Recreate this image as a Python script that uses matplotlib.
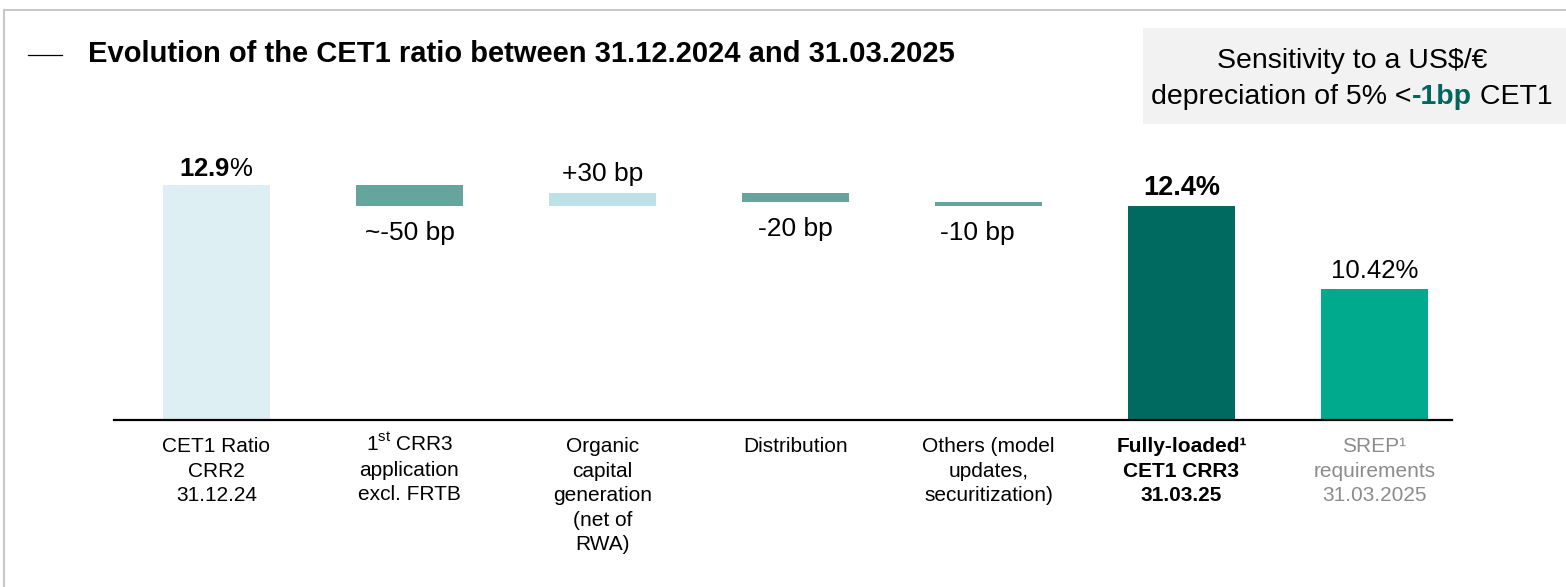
import matplotlib.pyplot as plt
from matplotlib.lines import Line2D
from matplotlib.patches import Rectangle

plt.rcParams['font.family'] = ['Liberation Sans', 'DejaVu Sans']
plt.rcParams['mathtext.fontset'] = 'custom'
plt.rcParams['mathtext.rm'] = 'Liberation Sans'
plt.rcParams['mathtext.bf'] = 'Liberation Sans:bold'

# data
categories = ["CET1 Ratio\nCRR2\n31.12.24",
              "1$^{\\rm st}$ CRR3\napplication\nexcl. FRTB",
              "Organic\ncapital\ngeneration\n(net of\nRWA)",
              "Distribution",
              "Others (model\nupdates,\nsecuritization)",
              "Fully-loaded\u00b9\nCET1 CRR3\n31.03.25",
              "SREP\u00b9\nrequirements\n31.03.2025"]
start_ratio = 12.9
deltas = [-0.5, 0.3, -0.2, -0.1]
delta_labels = ["~-50 bp", "+30 bp", "-20 bp", "-10 bp"]
end_ratio = 12.4
srep_ratio = 10.42
value_labels = ["$\\mathbf{12.9}$%", "12.4%", "10.42%"]

base = 7.3
W, H = 1566, 587
fig = plt.figure(figsize=(W / 100, H / 100), dpi=100)
ax = fig.add_axes([114 / W, 167 / H, 1338 / W, 280 / H])
ax.set_xlim(-0.531, 6.402)
ax.set_ylim(base, base + 280 / 42)
for s in ['top', 'left', 'right']:
    ax.spines[s].set_visible(False)
ax.spines['bottom'].set_linewidth(1.6)
ax.set_xticks([])
ax.set_yticks([])

bw = 0.555
delta_colors = ['#66a59d', '#bde1e6', '#66a59d', '#66a59d']

# first bar
ax.bar(0, start_ratio - base, bottom=base, width=bw, color='#ddeff2')
ax.annotate(value_labels[0], (0, start_ratio), xytext=(0, 6.5), textcoords='offset points',
            ha='center', va='baseline', fontsize=18.5)

level = start_ratio
for i, d in enumerate(deltas):
    x = i + 1
    lo, hi = min(level, level + d), max(level, level + d)
    ax.bar(x, hi - lo, bottom=lo, width=bw, color=delta_colors[i])
    if d < 0:
        dx = -8 if i == 3 else 0
        ax.annotate(delta_labels[i], (x, lo), xytext=(dx, -11), textcoords='offset points',
                    ha='center', va='top', fontsize=19)
    else:
        ax.annotate(delta_labels[i], (x, hi), xytext=(0, 9), textcoords='offset points',
                    ha='center', va='baseline', fontsize=19)
    level += d

ax.bar(5, end_ratio - base, bottom=base, width=bw, color='#006a61')
ax.annotate(value_labels[1], (5, end_ratio), xytext=(0, 8), textcoords='offset points',
            ha='center', va='baseline', fontsize=19.5, fontweight='bold')
ax.bar(6, srep_ratio - base, bottom=base, width=bw, color='#00aa8d')
ax.annotate(value_labels[2], (6, srep_ratio), xytext=(0, 7.7), textcoords='offset points',
            ha='center', va='baseline', fontsize=18.5)

# category labels
for i, c in enumerate(categories):
    kw = dict(color='black')
    if i == 5:
        kw['fontweight'] = 'bold'
    if i == 6:
        kw['color'] = '#8c8c8c'
    dy = -9.3 if i == 1 else -12.5  # superscript makes the first line taller
    ax.annotate(c, (i, base), xytext=(0, dy), textcoords='offset points',
                ha='center', va='top', fontsize=15, linespacing=1.36,
                annotation_clip=False, **kw)

# frame lines
fig.add_artist(Line2D([4 / W, 1], [1 - 10 / H, 1 - 10 / H], color='#c8c8c8', lw=1.5))
fig.add_artist(Line2D([4 / W, 4 / W], [0, 1 - 10 / H], color='#c8c8c8', lw=1.5))

# title
fig.add_artist(Line2D([28 / W, 62 / W], [1 - 54.5 / H, 1 - 54.5 / H], color='black', lw=0.9))
fig.text(88 / W, 1 - 62 / H, "Evolution of the CET1 ratio between 31.12.2024 and 31.03.2025",
         fontsize=21, fontweight='bold', va='baseline', ha='left')

# sensitivity box
fig.add_artist(Rectangle((1143 / W, 1 - 124 / H), (W - 1143) / W, 96 / H,
                         transform=fig.transFigure, color='#f2f2f2', lw=0))
fig.text(1352 / W, 1 - 68 / H, "Sensitivity to a US\\$/\u20ac", fontsize=20.5,
         ha='center', va='baseline')

pieces = [("depreciation of 5% <", 'normal', 'black'),
          ("-1bp", 'bold', '#00665e'),
          ("\u00a0CET1", 'normal', 'black')]
texts = [fig.text(0, 1 - 104 / H, p, fontsize=20.5, fontweight=fw, color=col,
                  ha='left', va='baseline') for p, fw, col in pieces]
fig.canvas.draw()
renderer = fig.canvas.get_renderer()
widths = [t.get_window_extent(renderer).width for t in texts]
x = 1352 - sum(widths) / 2
for t, w in zip(texts, widths):
    t.set_x(x / W)
    x += w

fig.savefig('out.png', dpi=100)
